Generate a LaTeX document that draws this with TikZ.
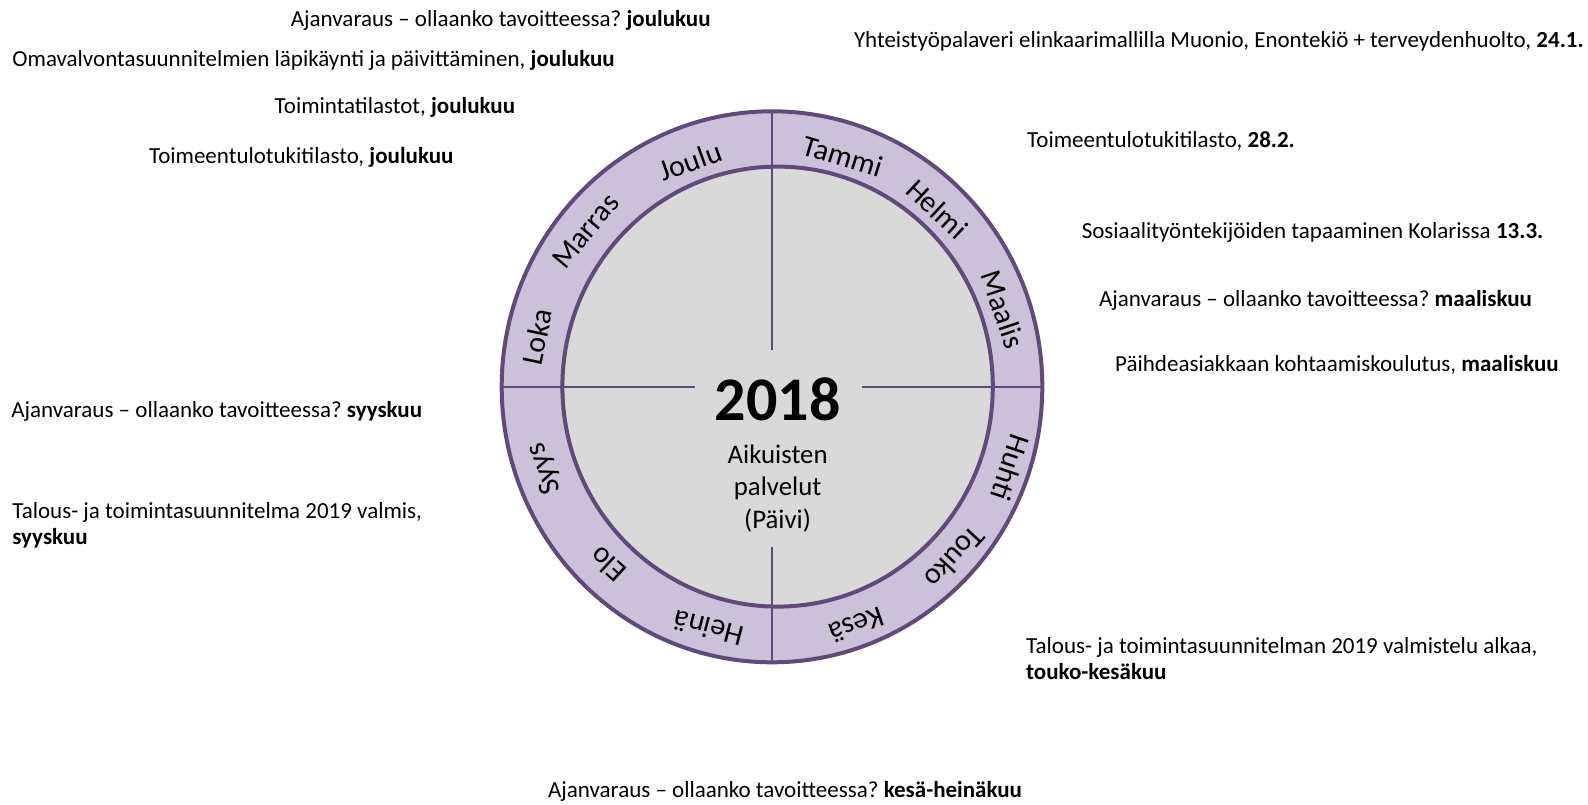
\documentclass[tikz,border=0pt]{standalone}
\usepackage{fontspec}
\setmainfont{Carlito}
\usetikzlibrary{calc}
\definecolor{ringc}{RGB}{204,193,218}
\definecolor{edgec}{RGB}{96,74,123}
\definecolor{corec}{RGB}{217,217,217}
\frenchspacing
\begin{document}
\begin{tikzpicture}[x=1pt,y=-1pt,
  lab/.style={anchor=base west, inner sep=0pt, font=\fontsize{23}{26}\selectfont, align=left},
  month/.style={anchor=base, inner sep=0pt, font=\fontsize{30}{30}\selectfont},
  rim/.style={draw=edgec, line width=4pt},
  divline/.style={draw=edgec, line width=2pt}]
\useasboundingbox (0,0) rectangle (1588,804);
\coordinate (c) at (772,386.8);
\coordinate (ci) at (777.6,386.6);
\filldraw[rim, fill=ringc] (c) ellipse [x radius=270.3pt, y radius=275.5pt];
\filldraw[rim, fill=corec] (ci) ellipse [x radius=215.2pt, y radius=220pt];
% dividing lines
\coordinate (vt1) at (772,111.3);
\coordinate (vt2) at (772,350);
\coordinate (vb1) at (772,546.6);
\coordinate (vb2) at (772,662.3);
\coordinate (hl1) at (501,386.5);
\coordinate (hl2) at (695,386.5);
\coordinate (hr1) at (862,386.5);
\coordinate (hr2) at (1041.5,386.5);
\draw[divline] (vt1) -- (vt2);
\draw[divline] (vb1) -- (vb2);
\draw[divline] (hl1) -- (hl2);
\draw[divline] (hr1) -- (hr2);
% months
\foreach \t/\a/\r [count=\i] in {Tammi/17.1/231, Helmi/42.9/232.5, Maalis/71.5/233.5, Huhti/108.7/242, Touko/133/240, Kesä/160.4/243, Heinä/194.7/239.5, Elo/222.7/231.5, Syys/250.2/234, Loka/282/230, Marras/309.9/233.5, Joulu/340.1/229.5}
  \node[month, rotate=-\a] (m\i) at ($(c)+({\a-90}:\r)$) {\t};
% centre
\node[anchor=base, inner sep=0pt, font=\fontsize{62}{62}\selectfont\bfseries] (year) at (777.6,420) {2018};
\node[anchor=base, inner sep=0pt, font=\fontsize{26.8}{32.5}\selectfont] (u1) at (777.6,463.3) {Aikuisten};
\node[anchor=base, inner sep=0pt, font=\fontsize{26.8}{32.5}\selectfont] (u2) at (777.6,495.8) {palvelut};
\node[anchor=base, inner sep=0pt, font=\fontsize{26.8}{32.5}\selectfont] (u3) at (777.6,528.3) {(Päivi)};
% events
\node[lab] (e1) at (290.7,26.5) {Ajanvaraus – ollaanko tavoitteessa? \textbf{joulukuu}};
\node[lab] (e2) at (12.2,66) {Omavalvontasuunnitelmien läpikäynti ja päivittäminen, \textbf{joulukuu}};
\node[lab] (e3) at (274.5,113.3) {Toimintatilastot, \textbf{joulukuu}};
\node[lab] (e4) at (148.9,163) {Toimeentulotukitilasto, \textbf{joulukuu}};
\node[lab] (e5) at (853.8,47.5) {Yhteistyöpalaveri elinkaarimallilla Muonio, Enontekiö + terveydenhuolto, \textbf{24.1.}};
\node[lab] (e6) at (1027,147.8) {Toimeentulotukitilasto, \textbf{28.2.}};
\node[lab] (e7) at (1081.6,238.9) {Sosiaalityöntekijöiden tapaaminen Kolarissa \textbf{13.3.}};
\node[lab] (e8) at (1098.8,306.8) {Ajanvaraus – ollaanko tavoitteessa? \textbf{maaliskuu}};
\node[lab] (e9) at (1115,371.6) {Päihdeasiakkaan kohtaamiskoulutus, \textbf{maaliskuu}};
\node[lab] (e10) at (11.1,417.2) {Ajanvaraus – ollaanko tavoitteessa? \textbf{syyskuu}};
\node[lab] (e11) at (12.2,544) {Talous- ja toimintasuunnitelma 2019 valmis,\\\textbf{syyskuu}};
\node[lab] (e12) at (1026,679) {Talous- ja toimintasuunnitelman 2019 valmistelu alkaa,\\\textbf{touko-kesäkuu}};
\node[lab] (e13) at (547.9,797) {Ajanvaraus – ollaanko tavoitteessa? \textbf{kesä-heinäkuu}};
\end{tikzpicture}
\end{document}
